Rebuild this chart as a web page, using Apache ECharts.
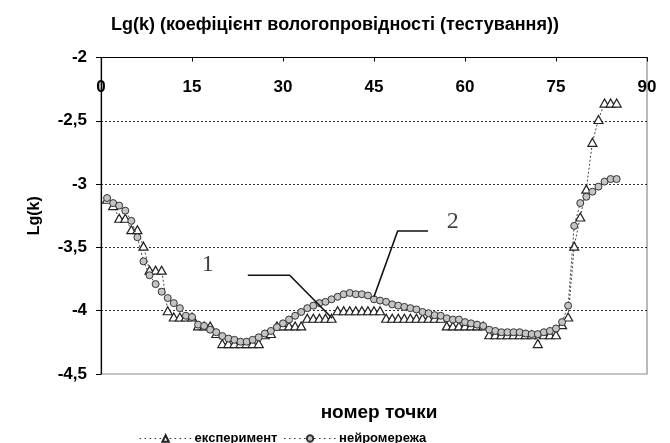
<!DOCTYPE html>
<html>
<head>
<meta charset="utf-8">
<script src="https://cdn.jsdelivr.net/npm/echarts@6/dist/echarts.min.js"></script>
<style>
html,body{margin:0;padding:0;background:#fff;}
#chart{width:670px;height:443px;}
</style>
</head>
<body>
<div id="chart"></div>
<script>
const titleText = 'Lg(k) (коефіцієнт вологопровідності (тестування))';
const xAxisTitle = 'номер точки';
const yAxisTitle = 'Lg(k)';
const seriesNames = ['експеримент', 'нейромережа'];

const pointNo = [1,2,3,4,5,6,7,8,9,10,11,12,13,14,15,16,17,18,19,20,
  21,22,23,24,25,26,27,28,29,30,31,32,33,34,35,36,37,38,39,40,
  41,42,43,44,45,46,47,48,49,50,51,52,53,54,55,56,57,58,59,60,
  61,62,63,64,65,66,67,68,69,70,71,72,73,74,75,76,77,78,79,80,
  81,82,83,84,85];

const experiment = [-3.12,-3.17,-3.27,-3.27,-3.36,-3.36,-3.49,-3.68,-3.68,-3.68,
  -4.00,-4.05,-4.05,-4.05,-4.05,-4.12,-4.12,-4.12,-4.18,-4.26,
  -4.26,-4.26,-4.26,-4.26,-4.26,-4.26,-4.19,-4.18,-4.12,-4.12,
  -4.12,-4.12,-4.12,-4.06,-4.06,-4.06,-4.06,-4.06,-4.00,-4.00,
  -4.00,-4.00,-4.00,-4.00,-4.00,-4.00,-4.06,-4.06,-4.06,-4.06,
  -4.06,-4.06,-4.06,-4.06,-4.06,-4.06,-4.12,-4.12,-4.12,-4.12,
  -4.12,-4.12,-4.12,-4.19,-4.19,-4.19,-4.19,-4.19,-4.19,-4.19,
  -4.19,-4.26,-4.19,-4.19,-4.19,-4.11,-4.05,-3.49,-3.26,-3.04,
  -2.67,-2.49,-2.36,-2.36,-2.36];

const network = [-3.11,-3.15,-3.17,-3.21,-3.29,-3.42,-3.61,-3.72,-3.79,-3.85,
  -3.90,-3.94,-3.98,-4.04,-4.05,-4.11,-4.12,-4.15,-4.17,-4.20,
  -4.22,-4.23,-4.245,-4.245,-4.23,-4.21,-4.18,-4.16,-4.13,-4.10,
  -4.07,-4.04,-4.01,-3.98,-3.96,-3.94,-3.93,-3.91,-3.89,-3.87,
  -3.86,-3.87,-3.87,-3.88,-3.91,-3.92,-3.93,-3.95,-3.96,-3.97,
  -3.98,-3.99,-4.01,-4.02,-4.035,-4.04,-4.06,-4.07,-4.07,-4.09,
  -4.10,-4.11,-4.12,-4.15,-4.16,-4.17,-4.17,-4.17,-4.17,-4.18,
  -4.185,-4.185,-4.17,-4.16,-4.14,-4.09,-3.96,-3.33,-3.15,-3.10,
  -3.06,-3.02,-2.98,-2.96,-2.96];

// annotation callouts (in data coordinates)
const callout1X = [24.2, 31.1, 38.1];
const callout1Y = [-3.72, -3.72, -4.06];
const callout2X = [53.9, 48.9, 45.0];
const callout2Y = [-3.37, -3.37, -3.89];
const calloutLabels = ['1', '2'];
const calloutLabelX = [17.6, 58.0];
const calloutLabelY = [-3.64, -3.30];

const xMin = 0, xMax = 90, xStep = 15;
const yMin = -4.5, yMax = -2, yStep = 0.5;

const zip = (xs, ys) => xs.map((x, i) => [x, ys[i]]);

const FONT = '"Liberation Sans", Arial, sans-serif';

const chart = echarts.init(document.getElementById('chart'), null, {renderer: 'canvas'});

const option = {
  animation: false,
  backgroundColor: '#fff',
  title: [
    {
      text: titleText,
      left: 'center',
      top: 11,
      textStyle: {fontFamily: FONT, fontWeight: 'bold', fontSize: 18, color: '#000'}
    },
    {
      text: xAxisTitle,
      left: 374,
      top: 398,
      textAlign: 'center',
      textStyle: {fontFamily: FONT, fontWeight: 'bold', fontSize: 19, color: '#000'}
    }
  ],
  legend: {
    data: seriesNames,
    left: 134,
    top: 427,
    itemWidth: 52,
    itemHeight: 8,
    itemGap: 6,
    lineStyle: {type: [1.5, 3.5], width: 1.2, color: '#333'},
    textStyle: {fontFamily: FONT, fontWeight: 'bold', fontSize: 13, color: '#000', padding: [0, 0, 0, -2]}
  },
  grid: {
    left: 101, top: 57.5, right: 23, bottom: 69,
    show: true, borderColor: '#8c8c8c', borderWidth: 1.2, backgroundColor: 'transparent'
  },
  xAxis: {
    type: 'value',
    position: 'top',
    min: xMin, max: xMax, interval: xStep,
    axisLine: {show: true, onZero: false, lineStyle: {color: '#000', width: 1.2}},
    axisTick: {show: true, inside: true, length: 4, lineStyle: {color: '#000'}},
    axisLabel: {
      inside: true, margin: 21,
      fontFamily: FONT, fontWeight: 'bold', fontSize: 17, color: '#000'
    },
    splitLine: {show: false}
  },
  yAxis: {
    type: 'value',
    min: yMin, max: yMax, interval: yStep,
    name: yAxisTitle,
    nameLocation: 'middle',
    nameRotate: 90,
    nameGap: 58,
    nameTextStyle: {fontFamily: FONT, fontWeight: 'bold', fontSize: 16, color: '#000'},
    axisLine: {show: true, onZero: false, lineStyle: {color: '#000', width: 1.2}},
    axisTick: {show: true, inside: false, length: 5, lineStyle: {color: '#000'}},
    axisLabel: {
      margin: 14,
      fontFamily: FONT, fontWeight: 'bold', fontSize: 17, color: '#000',
      formatter: v => String(Math.round(v * 10) / 10).replace('.', ',')
    },
    splitLine: {
      show: true, showMinLine: false, showMaxLine: false,
      lineStyle: {type: [2, 2], color: '#333', width: 1}
    }
  },
  series: [
    {
      name: seriesNames[0],
      type: 'line',
      data: zip(pointNo, experiment),
      symbol: 'triangle',
      symbolSize: [9, 8],
      showAllSymbol: true,
      lineStyle: {type: [2, 2], color: '#444', width: 1},
      itemStyle: {color: '#fff', borderColor: '#222', borderWidth: 1.2},
      z: 3
    },
    {
      name: seriesNames[1],
      type: 'line',
      data: zip(pointNo, network),
      symbol: 'circle',
      symbolSize: 7,
      showAllSymbol: true,
      lineStyle: {type: [2, 2], color: '#444', width: 1},
      itemStyle: {color: '#c4c4c4', borderColor: '#333', borderWidth: 1},
      z: 4
    },
    {
      name: 'callout1',
      type: 'line',
      data: zip(callout1X, callout1Y),
      symbol: 'none',
      silent: true,
      lineStyle: {color: '#111', width: 1.6},
      z: 5
    },
    {
      name: 'callout2',
      type: 'line',
      data: zip(callout2X, callout2Y),
      symbol: 'none',
      silent: true,
      lineStyle: {color: '#111', width: 1.6},
      z: 5
    },
    {
      name: 'calloutLabels',
      type: 'scatter',
      data: zip(calloutLabelX, calloutLabelY).map((p, i) => ({value: p, name: calloutLabels[i]})),
      symbolSize: 0,
      silent: true,
      label: {
        show: true, position: 'inside', formatter: p => p.name,
        fontFamily: '"Liberation Serif", "Times New Roman", serif',
        fontSize: 24, color: '#111'
      },
      z: 5
    }
  ]
};

chart.setOption(option);
</script>
</body>
</html>
